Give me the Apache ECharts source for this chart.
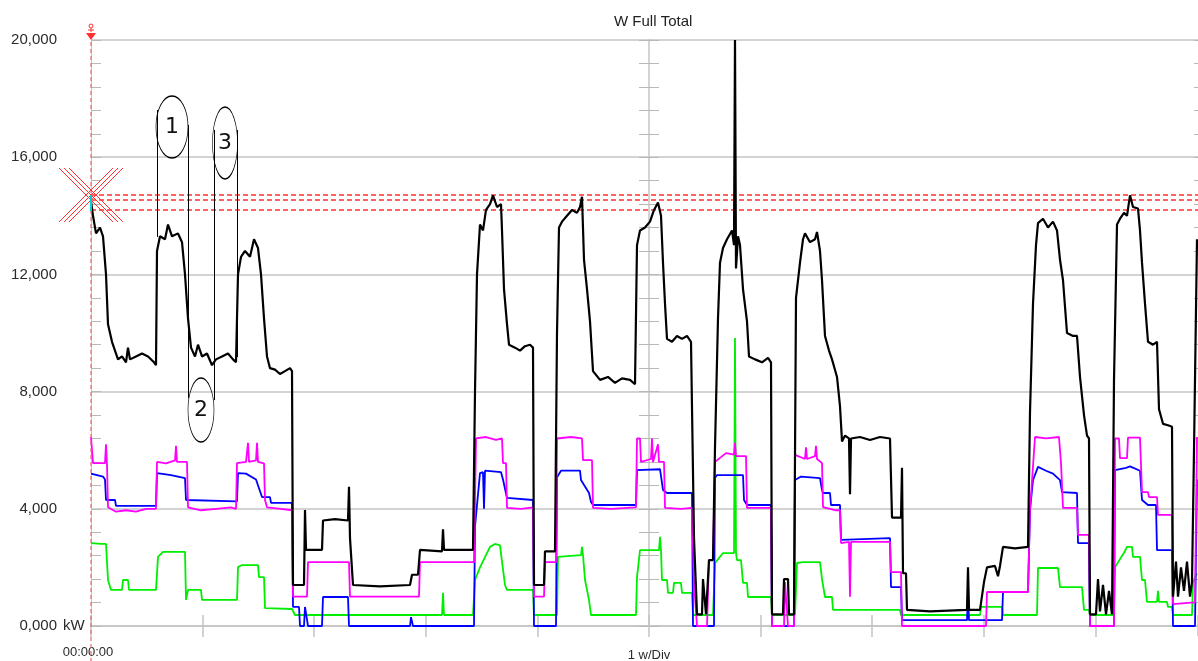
<!DOCTYPE html>
<html>
<head>
<meta charset="utf-8">
<script src="https://cdn.jsdelivr.net/npm/echarts@6/dist/echarts.min.js"></script>
<style>
html, body { margin: 0; padding: 0; background: #fff; }
#chart { width: 1198px; height: 661px; }
</style>
</head>
<body>
<div id="chart"></div>
<script>
// time is in samples (one division = 111.6 samples), values in kW

var yTicks = [0, 4000, 8000, 12000, 16000, 20000];
var yLabels = ['0,000', '4,000', '8,000', '12,000', '16,000', '20,000'];
var xDivision = 111.6;
var xEnd = 1107;

var cursorLevels = [14710, 14540, 14200];

// W Full Total (black)
var totalKW = [
  [0,14500],[2,14000],[5,13400],[9,13600],[12,13300],[15,12000],[17,10300],[21,9700],[27,9100],[31,9200],[35,9000],[37,9500],[39,9100],[45,9200],[51,9300],[57,9200],[63,9000],[65,8900],
  [66,12800],[69,13300],[74,13200],[77,13700],[81,13300],[87,13400],[91,13100],[94,12000],[97,10500],[100,9500],[104,9200],[107,9600],[111,9200],[116,9300],[121,8900],[125,9100],[131,9200],[137,9300],[142,9100],[145,9000],
  [147,12000],[150,12600],[154,12800],[159,12600],[163,13200],[167,12900],[170,12000],[173,10500],[176,9200],[179,8800],[184,8750],[189,8600],[194,8700],[199,8800],[201,8700],
  [202,1400],[213,1400],[214,3960],[215,2600],[231,2600],[232,3600],[244,3650],[257,3600],[258,4750],[259,3000],[262,1400],[289,1350],[319,1400],[321,1750],[327,1750],[329,2600],[351,2550],[352,3300],[353,2600],[382,2600],
  [384,8000],[386,12000],[389,13700],[392,13500],[395,14200],[399,14400],[402,14700],[406,14300],[410,14400],[411,13500],[413,11500],[416,10300],[418,9600],[424,9500],[429,9400],[434,9550],[439,9600],[442,9500],
  [443,1400],[453,1400],[454,2550],[464,2550],
  [466,10000],[468,13600],[471,13800],[476,14000],[481,14200],[486,14100],[489,14300],[491,14650],[493,12500],[496,11500],[499,10400],[502,8700],[509,8400],[517,8500],[524,8300],[531,8450],[539,8400],[544,8250],
  [546,13000],[549,13500],[554,13600],[559,13800],[563,14200],[567,14450],[570,14000],[572,12400],[574,11000],[576,9800],[581,9700],[586,9900],[591,9800],[596,9900],[600,9700],
  [603,3000],[606,400],[611,400],[612,1600],[614,1600],[615,400],[617,400],[618,2250],[622,2250],
  [624,6100],[627,10500],[629,12400],[632,12900],[636,13200],[641,13500],[643,13000],[644,20000],[645,12200],[647,13300],[649,13000],[652,11500],[656,10400],[658,9200],[664,9100],[671,9000],[677,9150],[680,9000],
  [681,400],[692,400],[693,1600],[697,1600],[698,400],[703,400],
  [705,11200],[709,12400],[712,13200],[714,13400],[719,13100],[724,13200],[726,13450],[729,12800],[731,11800],[734,9900],[738,9400],[741,9100],[746,8500],[749,7500],[751,6300],[754,6500],[758,6400],[759,4500],[760,6400],[769,6450],[779,6350],[789,6450],[799,6400],
  [801,3700],[810,3700],[811,5400],[812,1800],[815,1800],[816,550],[839,500],[876,550],[877,2000],[878,550],[889,550],[893,1500],[896,2000],[904,2050],[907,1700],[909,2050],[912,2700],[924,2650],[937,2700],
  [939,7300],[942,11000],[945,13000],[947,13750],[952,13900],[957,13600],[962,13800],[966,13500],[969,12500],[972,11800],[976,10000],[982,9900],[986,9900],[989,8500],[993,7200],[996,6500],[998,6400],
  [999,400],[1005,400],[1007,1600],[1009,500],[1012,1400],[1015,400],[1018,1200],[1021,400],
  [1023,8400],[1026,13700],[1029,13900],[1033,14100],[1036,14000],[1039,14700],[1042,14300],[1047,14250],[1049,13500],[1051,12400],[1054,11000],[1057,9700],[1062,9600],[1066,9700],[1068,7400],[1072,6900],[1077,6850],[1081,6800],
  [1082,1000],[1085,2200],[1087,1000],[1090,2000],[1093,1200],[1096,2200],[1099,1000],[1101,1500],[1103,6000],[1106,13200]
];

// magenta
var phase1KW = [
  [0,6450],[2,5560],[14,5560],[15,6200],[16,5500],[17,4050],[25,3900],[35,3950],[45,3900],[55,4000],[65,4000],
  [66,5600],[75,5550],[84,5650],[85,6150],[86,5600],[96,5600],[97,4050],[110,3950],[125,4000],[140,4050],[145,4000],
  [146,5560],[155,5600],[157,6250],[158,5600],[165,5650],[166,6250],[167,5600],[173,5550],[174,4300],[176,4050],[190,4000],[201,3950],
  [202,1000],[216,1000],[217,2180],[258,2180],[259,1000],[328,1000],[329,2180],[383,2180],
  [385,6400],[395,6450],[405,6350],[411,6400],[412,5560],[415,5560],[416,4030],[430,4000],[442,4050],
  [443,1000],[453,1000],[454,2180],[465,2180],
  [466,6400],[480,6450],[491,6400],[492,5660],[501,5660],[502,4030],[520,4000],[545,4050],
  [546,6400],[549,6400],[550,5600],[560,5700],[561,6400],[562,5600],[567,6200],[568,5600],[573,5600],[574,4030],[590,4000],[601,4030],
  [603,1500],[606,0],[616,0],[618,2250],[622,2250],
  [624,5600],[635,5900],[643,5850],[644,6250],[645,5800],[655,5800],[656,4030],[680,4030],
  [681,0],[693,0],[694,1500],[696,1500],[697,0],[703,0],
  [704,5840],[714,5700],[715,6100],[716,5700],[724,5800],[725,6150],[726,5700],[731,5560],[732,4060],[745,3950],[749,3950],
  [750,2830],[758,2870],[759,1000],[760,2870],[799,2870],[800,1840],[810,1840],[811,0],[895,0],[896,1160],[937,1160],
  [939,3960],[944,6450],[955,6400],[968,6450],[970,5560],[972,4030],[986,4030],[987,3110],[998,3110],
  [999,0],[1023,0],
  [1024,6400],[1028,6400],[1029,5730],[1036,5730],[1037,6430],[1049,6430],[1051,4570],[1057,4570],[1058,4400],[1066,4400],[1067,3790],[1081,3790],
  [1082,750],[1100,800],[1104,800],[1106,6450]
];

// blue
var phase2KW = [
  [0,5200],[12,5100],[14,5000],[15,4300],[24,4300],[25,4100],[65,4100],
  [66,5220],[80,5150],[94,5050],[95,4300],[146,4250],
  [147,5220],[155,5200],[165,5000],[171,4400],[179,4400],[180,4200],[201,4200],
  [202,650],[208,650],[209,0],[213,0],[214,650],[216,650],[217,0],[231,0],[232,990],[257,990],[258,0],[319,0],[320,300],[322,0],[383,0],
  [384,3400],[389,5220],[392,5250],[393,4000],[394,5300],[410,5250],[412,5000],[416,4370],[442,4300],
  [443,0],[465,0],
  [466,5080],[470,5300],[489,5300],[490,4980],[498,4540],[500,4230],[502,4130],[545,4130],
  [546,5320],[569,5350],[572,4640],[576,4540],[601,4540],
  [602,0],[623,0],
  [624,5050],[626,5150],[652,5150],[653,4300],[656,4130],[680,4130],
  [681,0],[703,0],
  [704,4980],[710,5100],[729,5050],[731,4640],[732,4540],[739,4540],[740,4130],[749,4130],
  [750,2940],[799,3000],[800,1330],[810,1330],[811,200],[876,200],[877,1100],[878,200],[911,200],[912,1160],[937,1160],
  [939,3960],[942,4980],[947,5430],[955,5300],[962,5200],[969,4980],[971,4570],[986,4540],[987,2830],[998,2830],
  [999,0],[1023,0],
  [1024,5320],[1035,5400],[1039,5450],[1049,5300],[1051,4300],[1057,4130],[1065,4130],[1066,2590],[1081,2590],
  [1082,0],[1104,0],[1106,5000]
];

// green
var phase3KW = [
  [0,2830],[10,2800],[15,2800],[17,1570],[20,1230],[31,1230],[32,1570],[37,1570],[38,1230],[65,1230],
  [67,2360],[72,2530],[94,2530],[95,890],[97,1230],[110,1230],[111,890],[146,890],
  [147,2010],[151,2080],[167,2080],[168,1670],[173,1670],[174,610],[201,580],[202,550],[204,375],[351,375],[352,1130],[353,375],[382,375],
  [384,1570],[389,2000],[399,2700],[404,2800],[409,2750],[411,2200],[414,1400],[416,1230],[442,1230],
  [443,375],[466,375],
  [467,2360],[469,2420],[490,2420],[491,2700],[492,2420],[494,1570],[498,890],[500,375],[545,375],
  [546,1670],[549,2590],[568,2590],[569,3040],[570,2590],[571,1570],[576,1570],[577,1130],[582,1130],[583,1470],[590,1470],[591,1130],[601,1130],
  [602,375],[622,375],
  [624,2150],[632,2490],[643,2490],[644,9830],[645,2490],[646,2250],[650,2250],[652,1470],[656,1470],[657,990],[680,990],
  [681,375],[704,375],
  [706,2150],[712,2180],[729,2180],[731,1600],[734,990],[741,990],[742,550],[809,550],[810,375],[889,375],[890,650],[911,650],[912,375],[946,375],
  [947,1980],[967,1980],[969,1330],[991,1330],[993,550],[998,550],[999,375],[1023,375],
  [1024,2010],[1033,2500],[1036,2700],[1041,2700],[1042,2360],[1049,2360],[1051,1570],[1054,1570],[1056,820],[1066,820],[1067,1200],[1068,820],[1076,820],[1077,650],[1081,650],
  [1082,375],[1101,375],[1102,1500],[1106,1800]
];

// balloon notes 1, 2, 3 and their leader lines
var notes = [
  { text: '1', at: [81, 17030], size: [32, 62] },
  { text: '2', at: [110, 7370], size: [26, 64] },
  { text: '3', at: [134, 16485], size: [25, 72] }
];
var noteLines = [
  [[66, 17610], [66, 13280]],
  [[97, 17100], [97, 7780]],
  [[123, 16930], [123, 7710]],
  [[146, 16930], [146, 9180]]
];

window.onload = function () {
  var dom = document.getElementById('chart');
  var myChart = echarts.init(dom);
  var font = 'Liberation Sans';
  var gray = '#c4c4c4';

  function yAxisBase() {
    return {
      type: 'value', min: 0, max: 20000, interval: 4000,
      axisLabel: { show: false },
      splitLine: { show: false },
      axisLine: { show: false },
      axisTick: { show: false },
      minorTick: { show: false }
    };
  }
  var yMain = yAxisBase();
  yMain.axisLine = { show: true, lineStyle: { color: gray } };
  yMain.axisTick = { show: true, inside: true, length: 10, lineStyle: { color: '#b8b8b8' } };
  yMain.minorTick = { show: true, splitNumber: 5, length: 10, lineStyle: { color: '#b8b8b8' } };
  yMain.splitLine = { show: true, lineStyle: { color: gray, width: 1.5 } };
  yMain.axisLabel = {
    show: true, margin: 34, fontSize: 15, color: '#2a2a2a', fontFamily: font,
    formatter: function (v) {
      var i = yTicks.indexOf(v);
      return i >= 0 ? yLabels[i] : '';
    }
  };
  // centre line with ticks on both sides
  var yMidL = yAxisBase();
  yMidL.offset = -5 * xDivision;
  yMidL.axisLine = { show: true, lineStyle: { color: gray, width: 1.5 } };
  yMidL.axisTick = { show: true, length: 10, lineStyle: { color: '#b8b8b8' } };
  yMidL.minorTick = { show: true, splitNumber: 5, length: 10, lineStyle: { color: '#b8b8b8' } };
  var yMidR = yAxisBase();
  yMidR.offset = -5 * xDivision;
  yMidR.axisTick = { show: true, inside: true, length: 10, lineStyle: { color: '#b8b8b8' } };
  yMidR.minorTick = { show: true, splitNumber: 5, length: 10, lineStyle: { color: '#b8b8b8' } };
  var yRight = yAxisBase();
  yRight.position = 'right';
  yRight.axisTick = { show: true, inside: true, length: 4, lineStyle: { color: '#b8b8b8' } };
  yRight.minorTick = { show: true, splitNumber: 5, length: 4, lineStyle: { color: '#b8b8b8' } };

  function xAxisBase(pos) {
    return {
      type: 'value', position: pos, min: 0, max: xEnd, interval: xDivision,
      axisLine: { show: false },
      axisLabel: { show: false },
      splitLine: { show: false },
      axisTick: { show: true, inside: true, length: 10, lineStyle: { color: gray, width: 1.5 } }
    };
  }
  var xMain = xAxisBase('bottom');
  xMain.axisLine = { show: true, lineStyle: { color: gray, width: 1.5 } };
  xMain.axisTick = { show: true, inside: false, length: 11, lineStyle: { color: gray, width: 1.5 } };
  xMain.axisLabel = {
    show: true, margin: 20, fontSize: 13, color: '#2a2a2a', fontFamily: font,
    showMaxLabel: false, padding: [0, 6, 0, 0],
    formatter: function (v) { return v === 0 ? '00:00:00' : ''; }
  };
  var xInner = xAxisBase('bottom');
  xInner.axisTick.length = 11;
  var xTop = xAxisBase('top');

  function lineSeries(name, data, color, width, z) {
    return {
      name: name, type: 'line', data: data,
      showSymbol: false, symbol: 'none', animation: false,
      xAxisIndex: 0, yAxisIndex: 0, z: z,
      lineStyle: { color: color, width: width },
      itemStyle: { color: color }
    };
  }

  var total = lineSeries('W Full Total', totalKW, '#000000', 2.2, 6);
  total.markLine = {
    silent: true, symbol: 'none', animation: false,
    label: { show: false },
    data: cursorLevels.map(function (v) {
      return { yAxis: v, lineStyle: { color: '#ff3030', type: [5, 3], width: 1.5 } };
    }).concat(noteLines.map(function (seg) {
      return [
        { coord: seg[0], lineStyle: { color: '#000', type: 'solid', width: 1 } },
        { coord: seg[1] }
      ];
    }))
  };
  total.markPoint = {
    silent: true, animation: false,
    data: notes.map(function (n) {
      return {
        coord: n.at, symbol: 'circle', symbolSize: n.size,
        itemStyle: { color: 'rgba(255,255,255,0)', borderColor: '#000', borderWidth: 1 },
        label: { show: true, position: 'inside', formatter: n.text, fontSize: 22, color: '#111', fontFamily: 'DejaVu Sans' }
      };
    })
  };

  var option = {
    backgroundColor: '#ffffff',
    animation: false,
    title: {
      text: 'W Full Total', left: 609, top: 9,
      textStyle: { fontSize: 15, fontWeight: 'normal', color: '#222', fontFamily: font }
    },
    grid: { left: 91, right: 0, top: 40, bottom: 35, outerBoundsMode: 'none', containLabel: false },
    xAxis: [xMain, xInner, xTop],
    yAxis: [yMain, yMidL, yMidR, yRight],
    series: [
      lineSeries('green', phase3KW, '#00ee00', 1.8, 3),
      lineSeries('blue', phase2KW, '#0000ff', 1.8, 4),
      lineSeries('magenta', phase1KW, '#ff00ff', 1.8, 5),
      total
    ]
  };
  myChart.setOption(option, true);

  // cursor decorations and bottom caption, positioned through the chart's own scales
  var c = myChart.convertToPixel({ gridIndex: 0 }, [0, cursorLevels[0]]);
  var o = myChart.convertToPixel({ gridIndex: 0 }, [0, 0]);
  var m = myChart.convertToPixel({ gridIndex: 0 }, [5 * xDivision, 0]);
  var cx = c[0], cy = c[1];
  var red = '#ff3030';
  var g = [];
  g.push({ type: 'line', shape: { x1: cx, y1: 28, x2: cx, y2: 661 },
    style: { stroke: '#e86a6a', lineWidth: 1.2, lineDash: [4, 3] }, z: 100 });
  g.push({ type: 'polygon', shape: { points: [[cx - 5, 33], [cx + 5, 33], [cx, 40]] },
    style: { fill: red }, z: 101 });
  g.push({ type: 'circle', shape: { cx: cx, cy: 26, r: 2 },
    style: { fill: 'none', stroke: red, lineWidth: 1 }, z: 101 });
  g.push({ type: 'line', shape: { x1: cx - 3, y1: 30, x2: cx + 3, y2: 30 },
    style: { stroke: red, lineWidth: 1 }, z: 101 });
  [-5, 0, 5].forEach(function (d) {
    g.push({ type: 'line', shape: { x1: cx - 27 + d, y1: cy - 27, x2: cx + 27 + d, y2: cy + 27 },
      style: { stroke: red, lineWidth: 1 }, z: 102 });
    g.push({ type: 'line', shape: { x1: cx + 27 + d, y1: cy - 27, x2: cx - 27 + d, y2: cy + 27 },
      style: { stroke: red, lineWidth: 1 }, z: 102 });
  });
  g.push({ type: 'line', shape: { x1: cx, y1: cy, x2: cx, y2: cy + 16 },
    style: { stroke: '#00d0d0', lineWidth: 2 }, z: 103 });
  g.push({ type: 'text', x: o[0] - 28, y: o[1],
    style: { text: 'kW', fontSize: 15, fill: '#2a2a2a', fontFamily: font, verticalAlign: 'middle' }, z: 100 });
  g.push({ type: 'text', x: m[0], y: o[1] + 29,
    style: { text: '1 w/Div', fontSize: 13, fill: '#2a2a2a', fontFamily: font, align: 'center', verticalAlign: 'middle' }, z: 100 });
  myChart.setOption({ graphic: g });
};
</script>
</body>
</html>
